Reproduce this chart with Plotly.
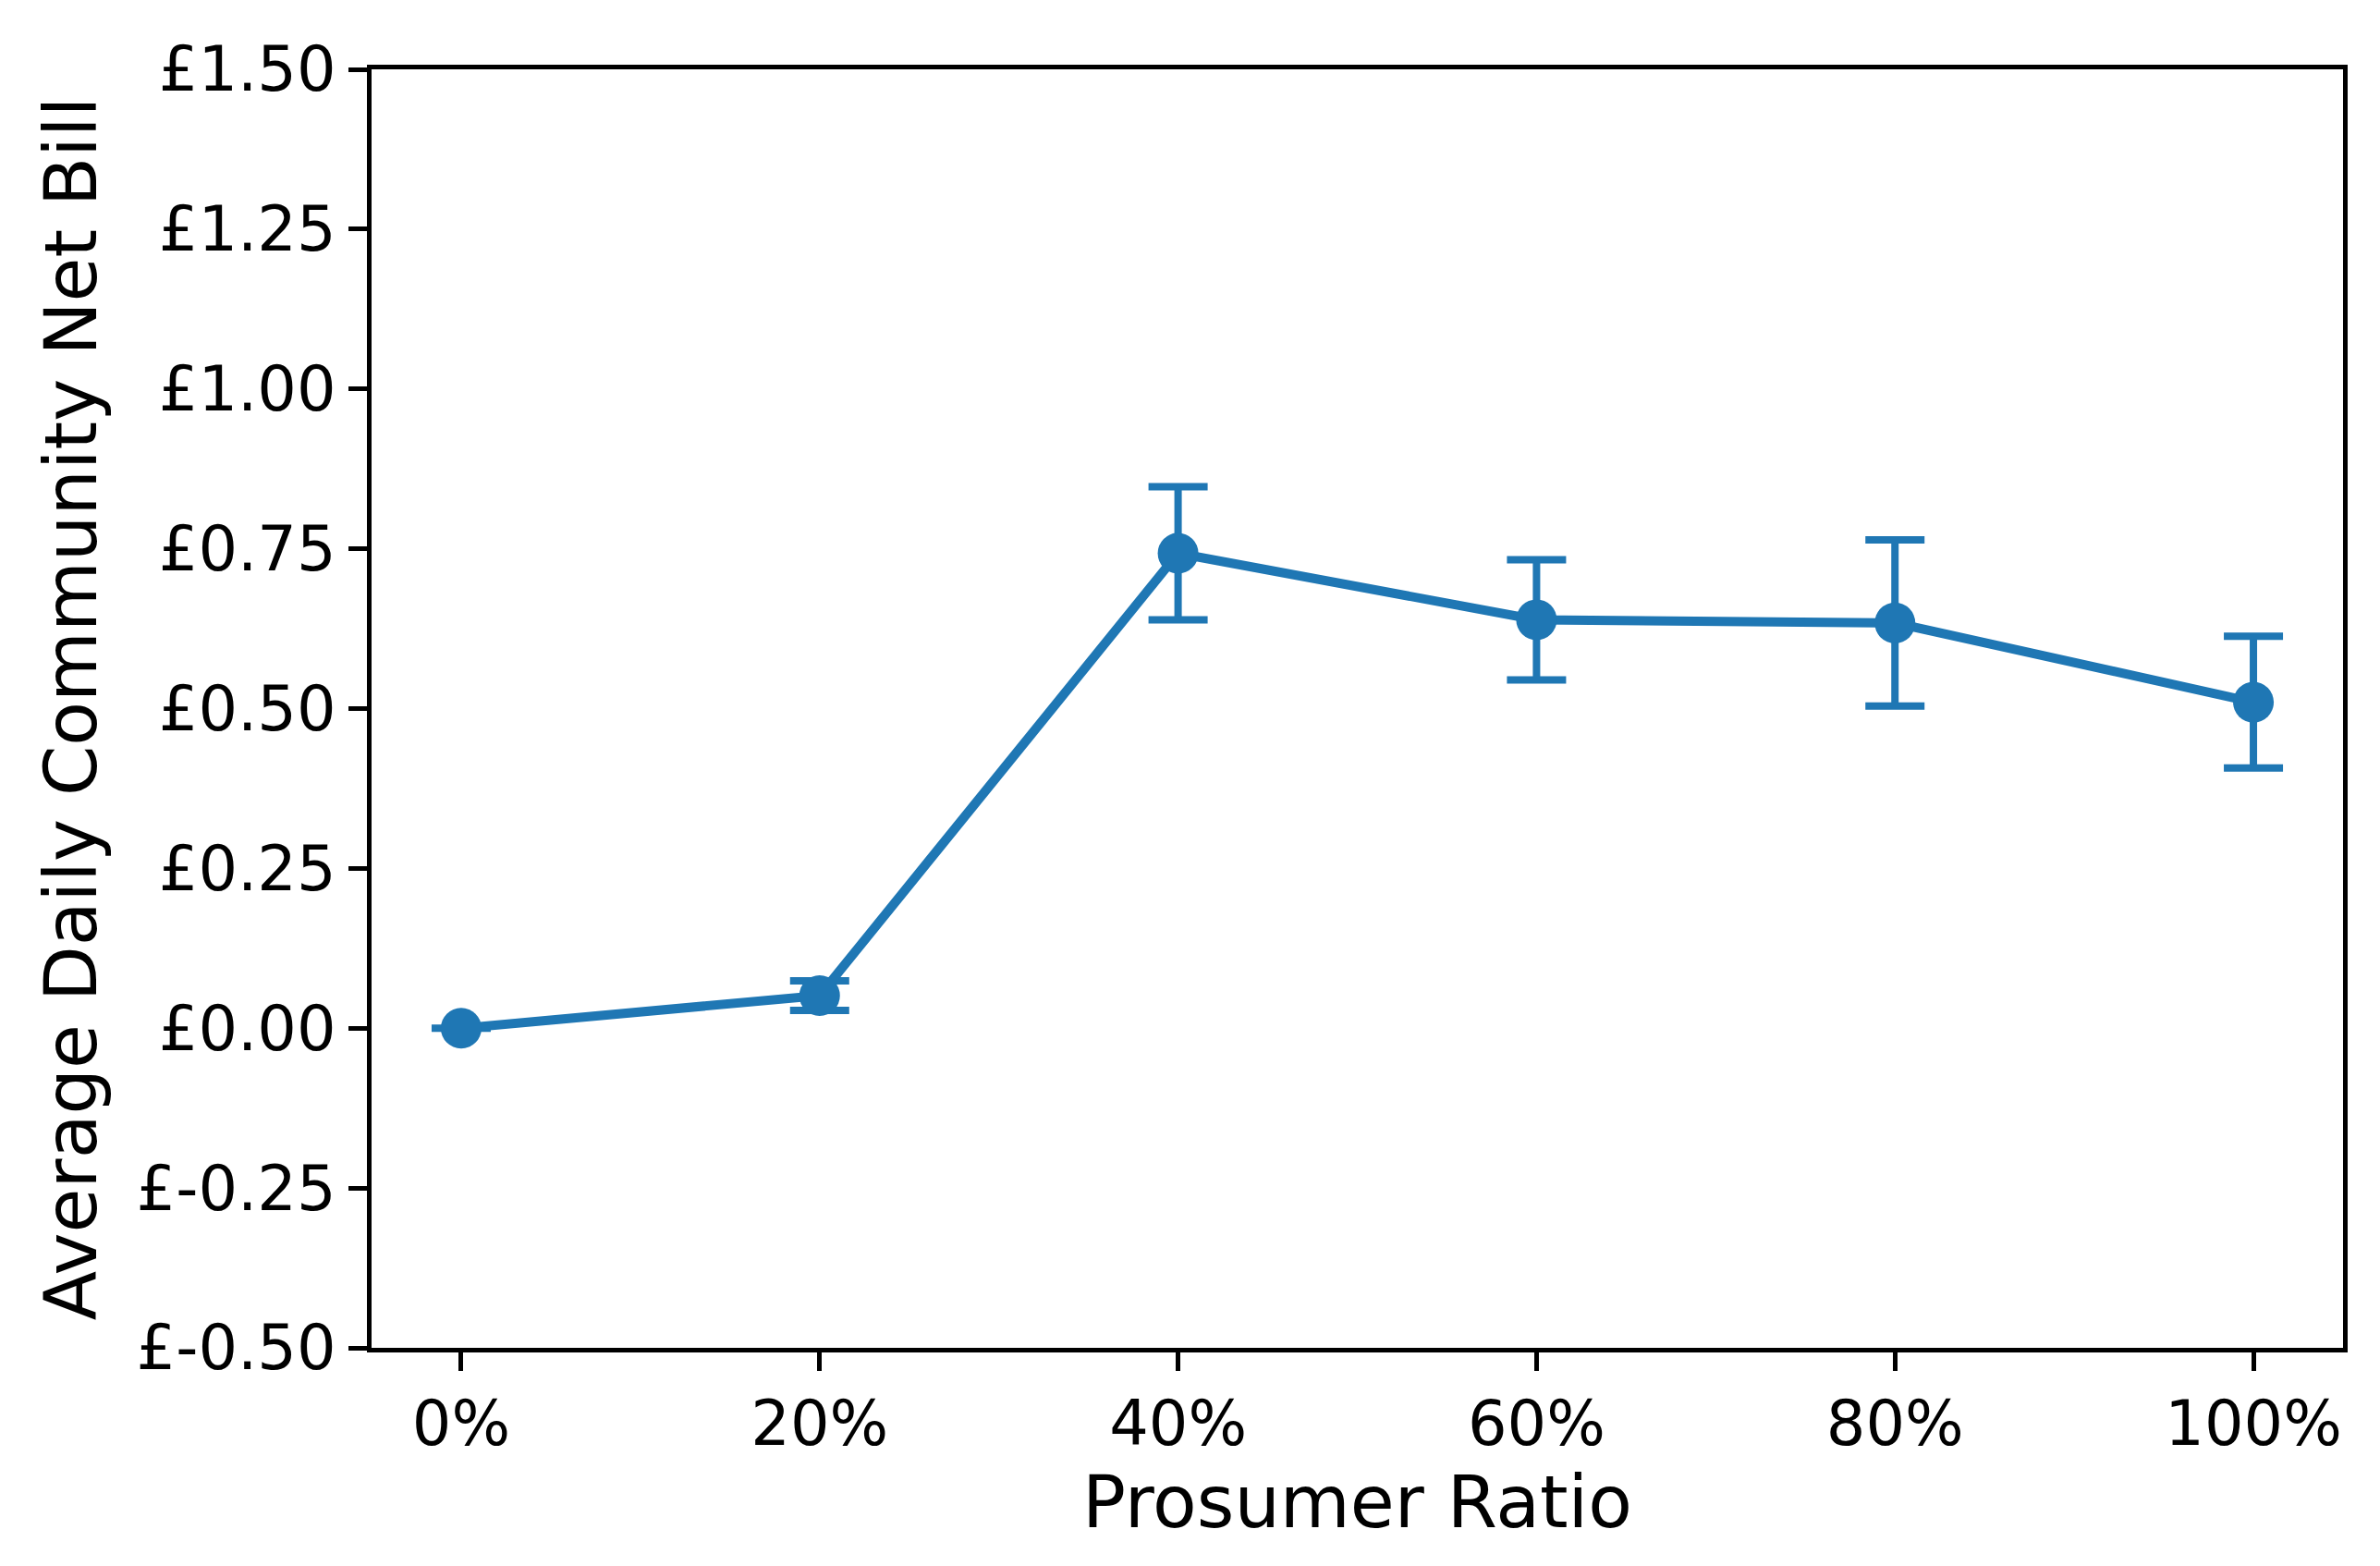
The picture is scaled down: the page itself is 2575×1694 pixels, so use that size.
import plotly.graph_objects as go

# Data
prosumer_ratio = [0, 20, 40, 60, 80, 100]
net_bill = [0.0, 0.051, 0.743, 0.639, 0.634, 0.510]
net_bill_err = [0.0, 0.023, 0.104, 0.094, 0.130, 0.103]

x_tick_vals = [0, 20, 40, 60, 80, 100]
x_tick_text = ["0%", "20%", "40%", "60%", "80%", "100%"]
y_tick_vals = [-0.5, -0.25, 0.0, 0.25, 0.5, 0.75, 1.0, 1.25, 1.5]
y_tick_text = ["£-0.50", "£-0.25", "£0.00", "£0.25", "£0.50", "£0.75", "£1.00", "£1.25", "£1.50"]

BLUE = "#1f77b4"
FONT = "DejaVu Sans"

fig = go.Figure()
fig.add_trace(go.Scatter(
    x=prosumer_ratio,
    y=net_bill,
    mode="lines+markers",
    line=dict(color=BLUE, width=10),
    marker=dict(color=BLUE, size=44),
    error_y=dict(type="data", array=net_bill_err, visible=True,
                 color=BLUE, thickness=8, width=32),
    showlegend=False,
))

axis_common = dict(
    showline=True, linecolor="black", linewidth=5, mirror=True,
    ticks="outside", ticklen=20, tickwidth=5, tickcolor="black",
    showgrid=False, zeroline=False,
    tickfont=dict(family=FONT, size=67, color="black"),
)

fig.update_layout(
    width=2567, height=1686,
    margin=dict(l=394, r=40, t=67, b=236, autoexpand=False),
    paper_bgcolor="white", plot_bgcolor="white",
    font=dict(family=FONT, color="black"),
    xaxis=dict(
        range=[-5, 105], tickmode="array", tickvals=x_tick_vals, ticktext=x_tick_text,
        title=dict(text="Prosumer Ratio", font=dict(family=FONT, size=78, color="black"), standoff=20),
        automargin=False,
        **axis_common,
    ),
    yaxis=dict(
        range=[-0.5, 1.5], tickmode="array", tickvals=y_tick_vals, ticktext=y_tick_text,
        title=dict(text="Average Daily Community Net Bill", font=dict(family=FONT, size=78, color="black"), standoff=19),
        automargin=False,
        **axis_common,
    ),
)

fig.write_html("out.html")
